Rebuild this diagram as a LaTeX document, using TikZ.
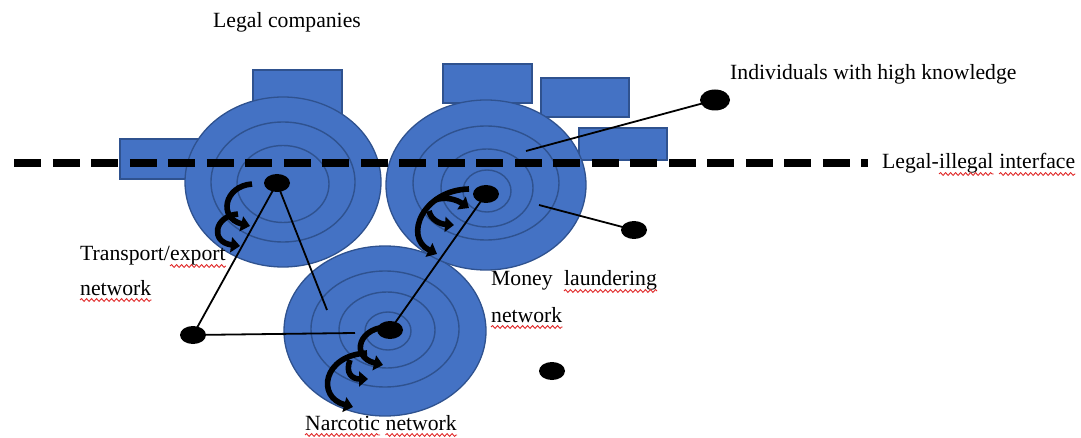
\documentclass[tikz,border=0pt]{standalone}
\usepackage{fontspec}
\setmainfont{Liberation Serif}
\usetikzlibrary{arrows.meta,shapes.geometric,decorations.pathmorphing}
\definecolor{fillblue}{HTML}{4472C4}
\definecolor{edgeblue}{HTML}{2F528F}
\definecolor{spellred}{HTML}{E02828}

\begin{document}
\begin{tikzpicture}[
  x=1pt,y=-1pt,
  font=\fontsize{21.7}{26}\selectfont,
  firm/.style={draw=edgeblue,fill=fillblue,line width=1.3pt},
  ring/.style={draw=edgeblue,line width=1.4pt},
  border/.style={line width=8pt,dash pattern=on 26.7pt off 11.8pt},
  lnk/.style={line width=1.8pt},
  dot/.style={ellipse,fill=black,inner sep=0pt,minimum width=26pt,minimum height=18pt},
  twist/.style={line width=5.6pt,-{Triangle[width=15pt,length=9pt]}},
  lbl/.style={inner sep=0pt,anchor=base west},
  spell/.style={draw=spellred,line width=0.9pt,decorate,
    decoration={snake,amplitude=1.4pt,segment length=5pt}},
]
\useasboundingbox (0,0) rectangle (1081,438);

% legal companies
\draw[firm] (120,139) rectangle (205,179);
\draw[firm] (253,70) rectangle (342,118);
\draw[firm] (443,64) rectangle (532,103);
\draw[firm] (541,78) rectangle (629,117);
\draw[firm] (579,128) rectangle (667,160);

% the three networks
\draw[firm] (385,331) ellipse [x radius=101,y radius=85];
\draw[ring] (385,329) ellipse [x radius=74,y radius=58];
\draw[ring] (387,330) ellipse [x radius=48,y radius=38];
\draw[ring] (388,331) ellipse [x radius=23,y radius=19];

\draw[firm] (283,182) ellipse [x radius=98,y radius=85];
\draw[ring] (283,182) ellipse [x radius=72,y radius=60];
\draw[ring] (283,184) ellipse [x radius=46,y radius=38.5];

\draw[firm] (486,185) ellipse [x radius=100,y radius=85];
\draw[ring] (486,183) ellipse [x radius=73,y radius=57];
\draw[ring] (487,188) ellipse [x radius=46,y radius=39];
\draw[ring] (487,191) ellipse [x radius=24,y radius=21];

% interface
\draw[border] (14.4,163) -- (868,163);

% actors
\node[dot] (hubT) at (277,183) {};
\node[dot] (hubM) at (486,194) {};
\node[dot] (hubN) at (390,330) {};
\node[dot,minimum width=30pt,minimum height=21pt] (expert) at (715,100) {};
\node[dot] (loneL) at (193,335) {};
\node[dot] (loneR) at (634,230) {};
\node[dot] (loneB) at (552,371) {};
\coordinate (endT) at (327,310);
\coordinate (endN) at (355,333);
\coordinate (endM) at (539,205);
\coordinate (endE) at (526,151);

\draw[lnk] (hubT.center) -- (loneL.center);
\draw[lnk] (hubT.center) -- (endT);
\draw[lnk] (loneL.center) -- (endN);
\draw[lnk] (hubM.center) -- (hubN.center);
\draw[lnk] (endM) -- (loneR.center);
\draw[lnk] (endE) -- (expert.center);

% flows
\draw[twist] (252,184) .. controls (224,186) and (218,218) .. (250,226);
\draw[twist] (238,214) .. controls (214,216) and (210,242) .. (240,246);
\draw[twist] (469,189) .. controls (423,190) and (403,237) .. (437,254);
\draw[twist] (435,200) .. controls (446,196) and (457,200) .. (469,208);
\draw[twist] (429,211) .. controls (431,220) and (440,224) .. (454,225);
\draw[twist] (392,327) .. controls (358,325) and (350,357) .. (383,365);
\draw[twist] (367,353) .. controls (323,355) and (316,397) .. (353,407);
\draw[twist] (350,360) .. controls (345,373) and (352,379) .. (368,379);

% labels
\node[lbl] (legalco) at (213,28) {Legal companies};
\node[lbl] (knowhow) at (730,80) {Individuals with high knowledge};
\node[lbl] (ifaceA) at (882,169) {Legal-};
\node[lbl] (ifaceB) at (ifaceA.base east) {illegal};
\node[lbl] (ifaceC) at ([xshift=5.4pt]ifaceB.base east) {interface};
\node[lbl] (transA) at (80,261) {Transport/};
\node[lbl] (transB) at (transA.base east) {export};
\node[lbl] (transC) at (80,295) {network};
\node[lbl] (moneyA) at (491,286) {Money};
\node[lbl] (moneyB) at ([xshift=11pt]moneyA.base east) {laundering};
\node[lbl] (moneyC) at (491,322) {network};
\node[lbl] (narcA) at (305,430) {Narcotic};
\node[lbl] (narcB) at ([xshift=5.4pt]narcA.base east) {network};

\foreach \w in {ifaceB,ifaceC,transB,transC,moneyB,moneyC,narcA,narcB}
  \draw[spell] ([yshift=-5pt]\w.base west) -- ([yshift=-5pt]\w.base east);
\end{tikzpicture}
\end{document}
